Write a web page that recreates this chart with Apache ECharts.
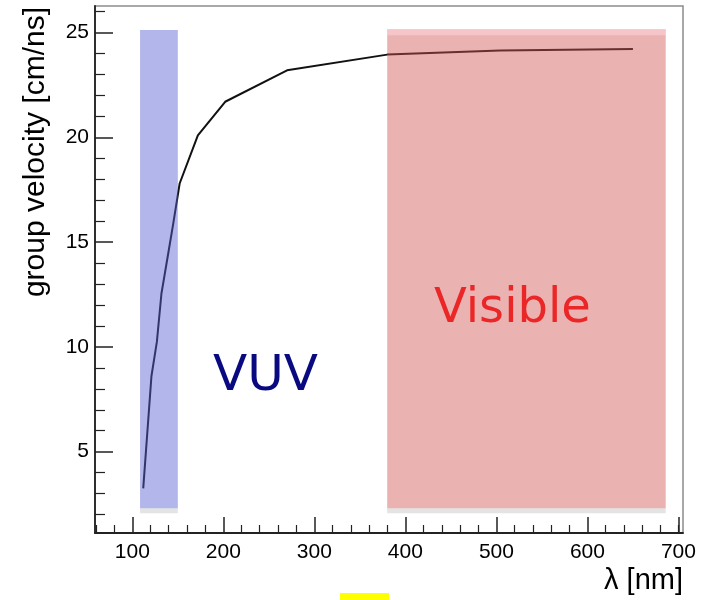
<!DOCTYPE html>
<html>
<head>
<meta charset="utf-8">
<script src="https://cdn.jsdelivr.net/npm/echarts@6/dist/echarts.min.js"></script>
<style>
  html, body { margin: 0; padding: 0; background: #fff; }
  #chart { width: 702px; height: 600px; }
</style>
</head>
<body>
<div id="chart"></div>
<script>
// Group velocity of scintillation light versus wavelength
const wavelength    = [112, 121, 127, 132, 140, 145, 152, 172, 202, 270, 380, 504, 650];
const groupVelocity = [3.25, 8.6, 10.25, 12.55, 14.6, 15.9, 17.8, 20.1, 21.7, 23.2, 23.95, 24.15, 24.22];

// Spectral regions (nm) and their vertical extent (cm/ns)
const bandNames  = ['VUV', 'Visible'];
const bandStart  = [108.5, 380];
const bandEnd    = [150, 686];
const bandLow    = [2.3, 2.3];
const bandHigh   = [25.13, 25.16];

// Tick values
const xMajorTicks = [100, 200, 300, 400, 500, 600, 700];
const xMinorTicks = [60, 80, 120, 140, 160, 180, 220, 240, 260, 280, 320, 340, 360, 380,
                     420, 440, 460, 480, 520, 540, 560, 580, 620, 640, 660, 680, 700];
const yMajorTicks = [5, 10, 15, 20, 25];
const yMinorTicks = [2, 3, 4, 6, 7, 8, 9, 11, 12, 13, 14, 16, 17, 18, 19, 21, 22, 23, 24, 26];

const xRange = [59, 705];
const yRange = [1.12, 26.27];

const curve = wavelength.map((w, i) => [w, groupVelocity[i]]);
const bands = bandNames.map((n, i) => [bandStart[i], bandEnd[i], bandLow[i], bandHigh[i], i]);

const bandFill = ['rgba(88,96,209,0.46)', 'rgba(210,84,84,0.45)'];
const axisColor = '#222';
const tickFont = { fontFamily: 'Liberation Sans', fontSize: 21, color: '#000' };

const chart = echarts.init(document.getElementById('chart'), null, { renderer: 'canvas' });

chart.setOption({
  animation: false,
  backgroundColor: '#fff',
  grid: {
    left: 95, right: 19, top: 6, bottom: 67,
    show: true, borderColor: '#8c8c8c', borderWidth: 1.5, backgroundColor: 'transparent'
  },
  xAxis: [
    {
      type: 'value', min: xRange[0], max: xRange[1], position: 'bottom',
      axisLine: { show: true, lineStyle: { color: axisColor, width: 1.8 } },
      axisTick: { show: true, inside: true, length: 16, customValues: xMajorTicks,
                  lineStyle: { color: axisColor, width: 1.5 } },
      axisLabel: Object.assign({ customValues: xMajorTicks, margin: 9 }, tickFont),
      splitLine: { show: false }
    },
    {
      type: 'value', min: xRange[0], max: xRange[1], position: 'bottom',
      axisLine: { show: false },
      axisTick: { show: true, inside: true, length: 8, customValues: xMinorTicks,
                  lineStyle: { color: axisColor, width: 1.2 } },
      axisLabel: { show: false },
      splitLine: { show: false }
    }
  ],
  yAxis: [
    {
      type: 'value', min: yRange[0], max: yRange[1], position: 'left',
      axisLine: { show: true, lineStyle: { color: axisColor, width: 1.8 } },
      axisTick: { show: true, inside: true, length: 18, customValues: yMajorTicks,
                  lineStyle: { color: axisColor, width: 1.5 } },
      axisLabel: Object.assign({ customValues: yMajorTicks, margin: 6 }, tickFont),
      splitLine: { show: false }
    },
    {
      type: 'value', min: yRange[0], max: yRange[1], position: 'left',
      axisLine: { show: false },
      axisTick: { show: true, inside: true, length: 10, customValues: yMinorTicks,
                  lineStyle: { color: axisColor, width: 1.2 } },
      axisLabel: { show: false },
      splitLine: { show: false }
    }
  ],
  series: [
    {
      name: 'group velocity',
      type: 'line',
      xAxisIndex: 0, yAxisIndex: 0,
      data: curve,
      showSymbol: false,
      smooth: false,
      lineStyle: { color: '#111', width: 2 },
      z: 2
    },
    {
      name: 'regions',
      type: 'custom',
      xAxisIndex: 0, yAxisIndex: 0,
      data: bands,
      z: 3,
      silent: true,
      renderItem: function (params, api) {
        const tl = api.coord([api.value(0), api.value(3)]);
        const br = api.coord([api.value(1), api.value(2)]);
        const idx = api.value(4);
        const w = br[0] - tl[0];
        const h = br[1] - tl[1];
        const children = [
          { type: 'rect', shape: { x: tl[0], y: br[1], width: w, height: 5 },
            style: { fill: '#e4e4e4' } },
          { type: 'rect', shape: { x: tl[0], y: tl[1], width: w, height: h },
            style: { fill: bandFill[idx] } }
        ];
        if (idx === 1) {
          children.push({ type: 'rect', shape: { x: tl[0], y: tl[1], width: w, height: 6 },
            style: { fill: 'rgba(255,214,220,0.55)' } });
        }
        return { type: 'group', children: children };
      }
    }
  ],
  graphic: [
    {
      type: 'text', x: 36, y: 7, rotation: Math.PI / 2,
      style: { text: 'group velocity [cm/ns]', fontFamily: 'Liberation Sans', fontSize: 30,
               fill: '#000', align: 'right', verticalAlign: 'middle' }
    },
    {
      type: 'text', right: 19, top: 566,
      style: { text: 'λ [nm]', fontFamily: 'Liberation Sans', fontSize: 29, fill: '#000' }
    },
    {
      type: 'text', left: 213, top: 352,
      style: { text: bandNames[0], fontFamily: 'DejaVu Sans', fontSize: 50, fill: '#0a0a80' }
    },
    {
      type: 'text', left: 434, top: 286,
      style: { text: bandNames[1], fontFamily: 'DejaVu Sans', fontSize: 48, fill: '#ff0000' }
    },
    {
      type: 'rect', left: 340, top: 593, shape: { width: 49, height: 7 },
      style: { fill: '#ffff00' }
    }
  ]
});
</script>
</body>
</html>
